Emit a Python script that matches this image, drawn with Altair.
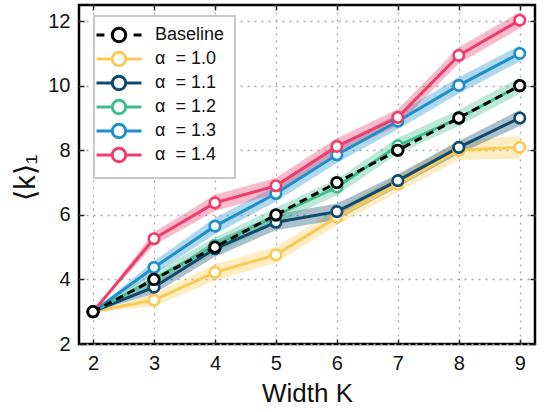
import altair as alt
import pandas as pd

K = [2, 3, 4, 5, 6, 7, 8, 9]
baseline = [3, 4, 5, 6, 7, 8, 9, 10]
a10 = [3.0, 3.36, 4.22, 4.76, 5.93, 6.95, 8.0, 8.09]
a11 = [3.0, 3.76, 4.95, 5.77, 6.10, 7.06, 8.09, 9.0]
a12 = [3.0, 4.02, 5.05, 5.98, 6.86, 8.14, 9.0, 10.0]
a13 = [3.0, 4.37, 5.65, 6.66, 7.86, 8.90, 10.01, 11.0]
a14 = [3.0, 5.26, 6.37, 6.90, 8.12, 9.02, 10.94, 12.03]
e10 = [0.0, 0.2, 0.25, 0.25, 0.25, 0.25, 0.3, 0.35]
e11 = [0.0, 0.2, 0.25, 0.25, 0.25, 0.2, 0.2, 0.25]
e12 = [0.0, 0.2, 0.25, 0.25, 0.25, 0.25, 0.25, 0.25]
e13 = [0.0, 0.2, 0.25, 0.25, 0.25, 0.25, 0.25, 0.25]
e14 = [0.0, 0.2, 0.25, 0.25, 0.25, 0.25, 0.25, 0.25]

NB = "\u00a0"
labels = ["Baseline"] + [f"α{NB}{NB}= {a}" for a in ["1.0", "1.1", "1.2", "1.3", "1.4"]]
colors = ["#000000", "#F9CB55", "#0D4A6E", "#3DBE8C", "#1D8FCB", "#EE3D6A"]

series = [a10, a11, a12, a13, a14]
errs = [e10, e11, e12, e13, e14]

rows = []
for lab, vals, er in zip(labels[1:], series, errs):
    for k, v, e in zip(K, vals, er):
        rows.append({"K": k, "v": v, "lo": v - e, "hi": v + e, "s": lab})
df = pd.DataFrame(rows)
dfb = pd.DataFrame({"K": K, "v": baseline, "s": labels[0]})
dfall = pd.concat([dfb, df[["K", "v", "s"]]], ignore_index=True)

# legend glyph: line with open circle (circle centre shifted right by c)
c = 0.8
r = 0.9
circ = f"M{c + r},0A{r},{r},0,1,1,{c - r},0A{r},{r},0,1,1,{c + r},0Z"
p_solid = f"M{c - 3},0L{c - r},0M{c + r},0L{c + 3},0" + circ
p_dash = f"M{c - 3},0L{c - 1.95},0M{c + 1.95},0L{c + 3},0" + circ

FONT = "Liberation Sans"
xs = alt.Scale(domain=[1.77, 9.25], nice=False, zero=False)
ys = alt.Scale(domain=[2, 12.5], nice=False, zero=False)
cscale = alt.Scale(domain=labels, range=colors)
fscale = alt.Scale(domain=labels[1:], range=colors[1:])

xax = alt.Axis(values=K, title="Width K", labelFontSize=20, titleFontSize=26,
               labelFont=FONT, titleFont=FONT, titleFontWeight="normal",
               labelColor="#111", titleColor="#111", domain=False,
               tickSize={"expr": "-5"}, tickColor="#222", tickWidth=1.5,
               labelPadding=14, titlePadding=7, labelFlush=False,
               grid=True, gridDash=[2, 5], gridColor="#a8a8a8", gridWidth=1.3)
yax = alt.Axis(values=[2, 4, 6, 8, 10, 12], title="⟨k⟩₁", labelFontSize=20,
               titleFontSize=29, labelFont=FONT, titleFont=FONT,
               titleFontWeight="normal", labelColor="#111", titleColor="#111",
               domain=False, tickSize={"expr": "-5"}, tickColor="#222",
               tickWidth=1.5, labelPadding=14, labelFlush=False,
               grid=True, gridDash=[2, 5], gridColor="#a8a8a8", gridWidth=1.3,
               titleX=-54, titleY=172, titleAngle=-90, titleAlign="center",
               titleBaseline="middle")

X = alt.X("K:Q", scale=xs, axis=xax)
Y = alt.Y("v:Q", scale=ys, axis=yax)

leg = alt.Legend(title=None, orient="none", legendX=15, legendY=11,
                 labelFont=FONT, labelFontSize=18, labelColor="#111",
                 symbolFillColor="white", symbolStrokeWidth=3,
                 symbolSize=225, symbolOpacity=1, labelOffset=33,
                 rowPadding=-2, padding=10, strokeColor="#c8c8c8",
                 fillColor="white", cornerRadius=0)

S = alt.Stroke("s:N", scale=cscale, legend=leg)

bands = alt.Chart(df).mark_area(opacity=0.35).encode(
    x=X, y=alt.Y("lo:Q", scale=ys, axis=yax), y2="hi:Q",
    fill=alt.Fill("s:N", scale=fscale, legend=None),
    detail="s:N")

lines = alt.Chart(df).mark_line(strokeWidth=3).encode(x=X, y=Y, stroke=S)

pts = alt.Chart(df).mark_point(filled=True, fill="white", size=110,
                               strokeWidth=2.6, opacity=1).encode(
    x=X, y=Y, stroke=S)

bline = alt.Chart(dfb).mark_line(strokeWidth=3, strokeDash=[8, 5], color="black").encode(
    x=X, y=Y)
bpts = alt.Chart(dfb).mark_point(filled=True, fill="white", size=110,
                                 strokeWidth=2.8, stroke="black", opacity=1).encode(
    x=X, y=Y)

legend_layer = alt.Chart(dfall).mark_point(filled=True, fill="white", opacity=0).encode(
    x=alt.X("K:Q", scale=xs, axis=alt.Axis(orient="top", labels=False, title=None,
                                           domain=False, grid=False,
                                           tickSize={"expr": "-5"}, tickColor="#222",
                                           tickWidth=1.5, values=K)),
    y=alt.Y("v:Q", scale=ys, axis=alt.Axis(orient="right", labels=False, title=None,
                                           domain=False, grid=False,
                                           tickSize={"expr": "-5"}, tickColor="#222",
                                           tickWidth=1.5, values=[2, 4, 6, 8, 10, 12])),
    stroke=S,
    shape=alt.Shape("s:N", scale=alt.Scale(domain=labels,
                                           range=[p_dash] + [p_solid] * 5),
                    legend=leg))

main = alt.layer(bands, lines, pts, bline, bpts)

chart = alt.layer(main, legend_layer).resolve_axis(
    x="independent", y="independent"
).properties(
    width=456, height=339,
    autosize=alt.AutoSizeParams(type="none"),
    padding={"left": 79, "top": 5, "right": 11, "bottom": 68},
    background="white",
).configure_view(
    stroke="black", strokeWidth=2.5
).configure_legend(strokeWidth=2)

chart.save("out.html", embed_options={"renderer": "svg", "actions": False})
